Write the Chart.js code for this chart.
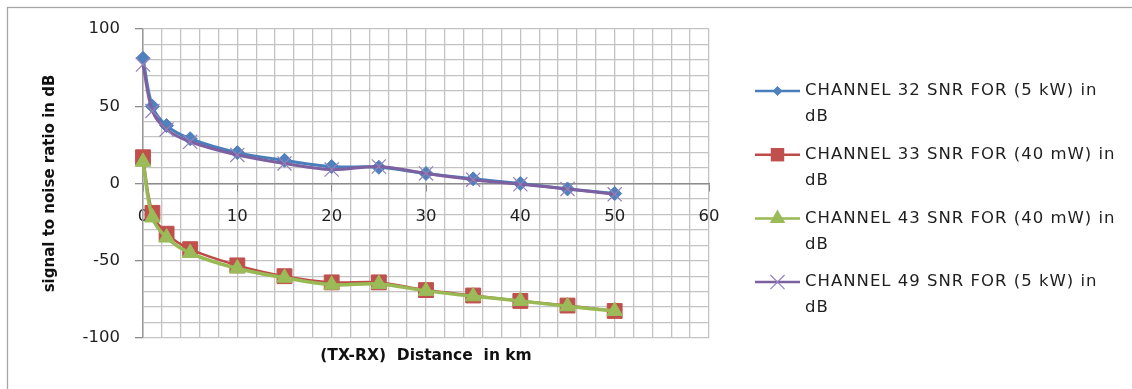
<!DOCTYPE html>
<html>
<head>
<meta charset="utf-8">
<script src="https://cdn.jsdelivr.net/npm/chart.js@4.4.0/dist/chart.umd.min.js"></script>
<style>
html,body{margin:0;padding:0;background:#fff;}
#wrap{width:1132px;height:389px;position:relative;}
</style>
</head>
<body>
<div id="wrap"><canvas id="c" width="1132" height="389"></canvas></div>
<script>
// ---- data ----
const distances = [0, 1, 2.5, 5, 10, 15, 20, 25, 30, 35, 40, 45, 50];
const ch32_5kW  = [81, 50, 37.5, 29, 20, 15, 11, 10.5, 6.5, 3, 0, -3.5, -6.5];
const ch33_40mW = [17, -19, -32.5, -42.5, -53, -60, -64, -64, -69, -72.5, -76, -79, -82.5];
const ch43_40mW = [14, -22, -35, -45, -55, -61, -65.5, -65, -69.5, -73, -76, -79.5, -82.5];
const ch49_5kW  = [77, 47, 35, 27, 18.5, 13, 9, 11, 6.5, 2.5, -0.5, -3.5, -7];
const seriesLabels = [
  'CHANNEL 32 SNR FOR (5 kW) in dB',
  'CHANNEL 33 SNR FOR (40 mW) in dB',
  'CHANNEL 43 SNR FOR (40 mW) in dB',
  'CHANNEL 49 SNR FOR (5 kW) in dB'
];
const xTickLabels = [0, 10, 20, 30, 40, 50, 60];
const yTickLabels = [-100, -50, 0, 50, 100];
const xTitle = '(TX-RX)  Distance  in km';
const yTitle = 'signal to noise ratio in dB';

const pts = arr => distances.map((d, i) => ({x: d, y: arr[i]}));

function drawMarker(ctx, style, x, y, r, fill, stroke, bw) {
  ctx.save();
  ctx.fillStyle = fill; ctx.strokeStyle = stroke; ctx.lineWidth = bw;
  ctx.beginPath();
  if (style === 'rectRot') {
    ctx.moveTo(x, y - r); ctx.lineTo(x + r, y); ctx.lineTo(x, y + r); ctx.lineTo(x - r, y); ctx.closePath(); ctx.fill();
  } else if (style === 'rect') {
    const s = r * Math.SQRT1_2; ctx.rect(x - s, y - s, 2 * s, 2 * s); ctx.fill();
  } else if (style === 'triangle') {
    const c = Math.cos(Math.PI / 6) * r;
    ctx.moveTo(x, y - r); ctx.lineTo(x + c, y + r / 2); ctx.lineTo(x - c, y + r / 2); ctx.closePath(); ctx.fill();
  } else if (style === 'crossRot') {
    const d = r * Math.SQRT1_2;
    ctx.moveTo(x - d, y - d); ctx.lineTo(x + d, y + d); ctx.moveTo(x + d, y - d); ctx.lineTo(x - d, y + d); ctx.stroke();
  }
  ctx.restore();
}

const frame = {
  id: 'frame',
  beforeDraw(chart) {
    const ctx = chart.ctx;
    ctx.save();
    ctx.fillStyle = '#fff'; ctx.fillRect(0, 0, chart.width, chart.height);
    ctx.strokeStyle = '#a6a6a6'; ctx.lineWidth = 1.3;
    ctx.strokeRect(7.5, 7.5, chart.width + 50, chart.height + 50);
    ctx.restore();
  }
};

const legendRadii = [5, 9.5, 9, 10];
const sideLegend = {
  id: 'sideLegend',
  afterDraw(chart) {
    const ctx = chart.ctx;
    const lx0 = 755, lx1 = 800, tx = 805;
    chart.data.datasets.forEach((ds, i) => {
      const y = 91 + i * 63.7;
      ctx.save();
      ctx.strokeStyle = ds.borderColor; ctx.lineWidth = 2.5;
      ctx.beginPath(); ctx.moveTo(lx0, y); ctx.lineTo(lx1, y); ctx.stroke();
      drawMarker(ctx, ds.pointStyle, (lx0 + lx1) / 2, y, legendRadii[i], ds.pointBackgroundColor, ds.pointBorderColor, ds.pointBorderWidth);
      ctx.fillStyle = '#1e1e1e';
      ctx.font = '16.5px "DejaVu Sans"';
      ctx.textBaseline = 'middle'; ctx.textAlign = 'left';
      try { ctx.letterSpacing = '1px'; } catch (e) {}
      const words = ds.label.split(' ');
      const lines = []; let cur = '';
      words.forEach(w => {
        const t = cur ? cur + ' ' + w : w;
        if (ctx.measureText(t).width > 314 && cur) { lines.push(cur); cur = w; } else { cur = t; }
      });
      if (cur) lines.push(cur);
      lines.forEach((ln, k) => ctx.fillText(ln, tx, y + k * 26));
      ctx.restore();
    });
  }
};

const gridColor = '#c3c3c3';
const tickFont = {family: 'DejaVu Sans', size: 16.5};
const titleFont = {family: 'DejaVu Sans', size: 15, weight: 'bold'};

new Chart(document.getElementById('c'), {
  type: 'line',
  data: {
    datasets: [
      {label: seriesLabels[0], data: pts(ch32_5kW), borderColor: '#4A7EBB', borderWidth: 3,
       pointStyle: 'rectRot', pointRadius: 7, pointBackgroundColor: '#4F81BD', pointBorderColor: '#4F81BD', pointBorderWidth: 1,
       tension: 0.35, clip: false, order: 3},
      {label: seriesLabels[1], data: pts(ch33_40mW), borderColor: '#BE4B48', borderWidth: 2.5,
       pointStyle: 'rect', pointRadius: 10.5, pointBackgroundColor: '#C0504D', pointBorderColor: '#C0504D', pointBorderWidth: 1,
       tension: 0.35, clip: false, order: 2},
      {label: seriesLabels[2], data: pts(ch43_40mW), borderColor: '#98B954', borderWidth: 3.5,
       pointStyle: 'triangle', pointRadius: 9, pointBackgroundColor: '#9BBB59', pointBorderColor: '#9BBB59', pointBorderWidth: 1,
       tension: 0.35, clip: false, order: 1},
      {label: seriesLabels[3], data: pts(ch49_5kW), borderColor: '#7D60A0', borderWidth: 3,
       pointStyle: 'crossRot', pointRadius: 10, pointBackgroundColor: '#9580BA', pointBorderColor: '#9580BA', pointBorderWidth: 1.2,
       tension: 0.35, clip: false, order: 0}
    ]
  },
  options: {
    responsive: false,
    animation: false,
    devicePixelRatio: 1,
    events: [],
    layout: {padding: {left: 10, right: 423, top: 29, bottom: 0}},
    plugins: {legend: {display: false}, tooltip: {enabled: false}, title: {display: false}},
    scales: {
      x: {
        type: 'linear', position: 'bottom', min: 0, max: 60,
        afterFit(s) { s.height = 51; },
        ticks: {display: false, stepSize: 2, autoSkip: false},
        grid: {color: gridColor, lineWidth: 1.3, drawTicks: false},
        border: {display: false},
        title: {display: true, text: xTitle, color: '#111',
                font: {family: 'DejaVu Sans', size: 15.5, weight: 'bold'}, padding: {top: 0, bottom: 23.4}}
      },
      x0: {
        type: 'linear', position: {y: 0}, min: 0, max: 60,
        ticks: {stepSize: 10, autoSkip: false, padding: 16.4, color: '#1e1e1e', font: tickFont,
                callback: v => xTickLabels.includes(v) ? String(v) : ''},
        grid: {display: true, drawOnChartArea: false, drawTicks: true, tickLength: 7, color: '#8c8c8c', lineWidth: 1},
        border: {display: true, color: '#8c8c8c', width: 1.5}
      },
      y: {
        type: 'linear', position: 'left', min: -100, max: 100,
        afterFit(s) { s.width = 133; },
        ticks: {stepSize: 10, autoSkip: false, padding: 15, color: '#1e1e1e', font: tickFont,
                callback: v => yTickLabels.includes(v) ? String(v) : ''},
        grid: {color: gridColor, lineWidth: 1.3, tickLength: 8,
               tickColor: c => (c.tick && yTickLabels.includes(c.tick.value)) ? '#8c8c8c' : 'rgba(0,0,0,0)'},
        border: {display: true, color: '#9a9a9a', width: 1.5},
        title: {display: true, text: yTitle, color: '#111', font: titleFont, padding: {top: 31, bottom: 0}}
      }
    }
  },
  plugins: [frame, sideLegend]
});
</script>
</body>
</html>
